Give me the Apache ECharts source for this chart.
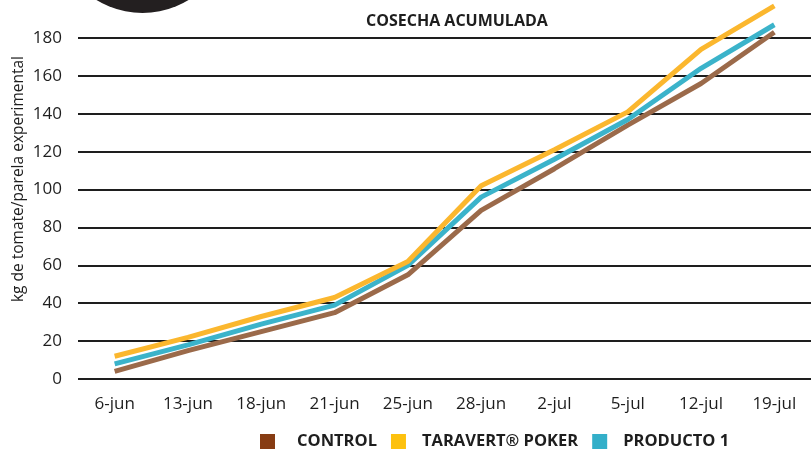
<!DOCTYPE html>
<html>
<head>
<meta charset="utf-8">
<script src="https://cdn.jsdelivr.net/npm/echarts@6/dist/echarts.min.js"></script>
<style>html,body{margin:0;padding:0;background:#fff;}#c{width:811px;height:451px;}</style>
</head>
<body>
<div id="c"></div>
<script>
var categories = ['6-jun','13-jun','18-jun','21-jun','25-jun','28-jun','2-jul','5-jul','12-jul','19-jul'];
var control = [4, 15, 25, 35, 55, 89, 111, 134, 156, 183];
var taravert = [12, 22, 33, 43, 62, 102, 121, 141, 174, 197];
var producto1 = [8, 18, 29, 39, 60, 96, 116, 137, 164, 187];
var seriesNames = ['CONTROL', 'TARAVERT® POKER', 'PRODUCTO 1'];
var yTicks = [0, 20, 40, 60, 80, 100, 120, 140, 160, 180];

var FONT = '"Open Sans", "DejaVu Sans", sans-serif';
var chart = echarts.init(document.getElementById('c'));
chart.setOption({
  animation: false,
  backgroundColor: '#ffffff',
  title: {
    text: 'COSECHA ACUMULADA',
    left: 361, top: 8,
    textStyle: {fontFamily: FONT, fontWeight: 'bold', fontSize: 16, color: '#1e1e1e'}
  },
  graphic: [
    {type: 'circle', shape: {cx: 142.5, cy: -75, r: 88}, style: {fill: '#231f20'}, z: 0},
    {type: 'text', x: 19, y: 179, rotation: Math.PI / 2,
     style: {text: 'kg de tomate/parela experimental', fontFamily: FONT, fontSize: 15.5,
             fill: '#1e1e1e', textAlign: 'center', textVerticalAlign: 'middle'}}
  ],
  legend: {
    left: 260, top: 433, padding: 0,
    icon: 'rect', itemWidth: 15, itemHeight: 15, itemGap: 14,
    textStyle: {fontFamily: FONT, fontWeight: 'bold', fontSize: 16.5, color: '#1e1e1e', padding: [0, 0, 0, 11]},
    data: [
      {name: seriesNames[0], itemStyle: {color: '#873c13'}, textStyle: {padding: [0, 0, 0, 17]}},
      {name: seriesNames[1], itemStyle: {color: '#fdc10e'}},
      {name: seriesNames[2], itemStyle: {color: '#33afc9'}}
    ]
  },
  grid: {left: 78, right: -6, top: 38, bottom: 72},
  xAxis: {
    type: 'category', data: categories, boundaryGap: true,
    axisLine: {show: false}, axisTick: {show: false},
    axisLabel: {fontFamily: FONT, fontSize: 17, color: '#1e1e1e', margin: 17}
  },
  yAxis: {
    type: 'value', min: 0, max: 180, interval: 20,
    axisLine: {show: false}, axisTick: {show: false},
    axisLabel: {fontFamily: FONT, fontSize: 17, color: '#1e1e1e', margin: 16},
    splitLine: {lineStyle: {color: '#1e1e1e', width: 2}}
  },
  series: [
    {name: seriesNames[0], type: 'line', data: control, showSymbol: false, symbol: 'none', clip: false,
     lineStyle: {color: '#9b6a4a', width: 5}, itemStyle: {color: '#873c13'}},
    {name: seriesNames[2], type: 'line', data: producto1, showSymbol: false, symbol: 'none', clip: false,
     lineStyle: {color: '#3bb3ca', width: 5}, itemStyle: {color: '#33afc9'}},
    {name: seriesNames[1], type: 'line', data: taravert, showSymbol: false, symbol: 'none', clip: false,
     lineStyle: {color: '#fbb72e', width: 5}, itemStyle: {color: '#fdc10e'}}
  ]
});
</script>
</body>
</html>
